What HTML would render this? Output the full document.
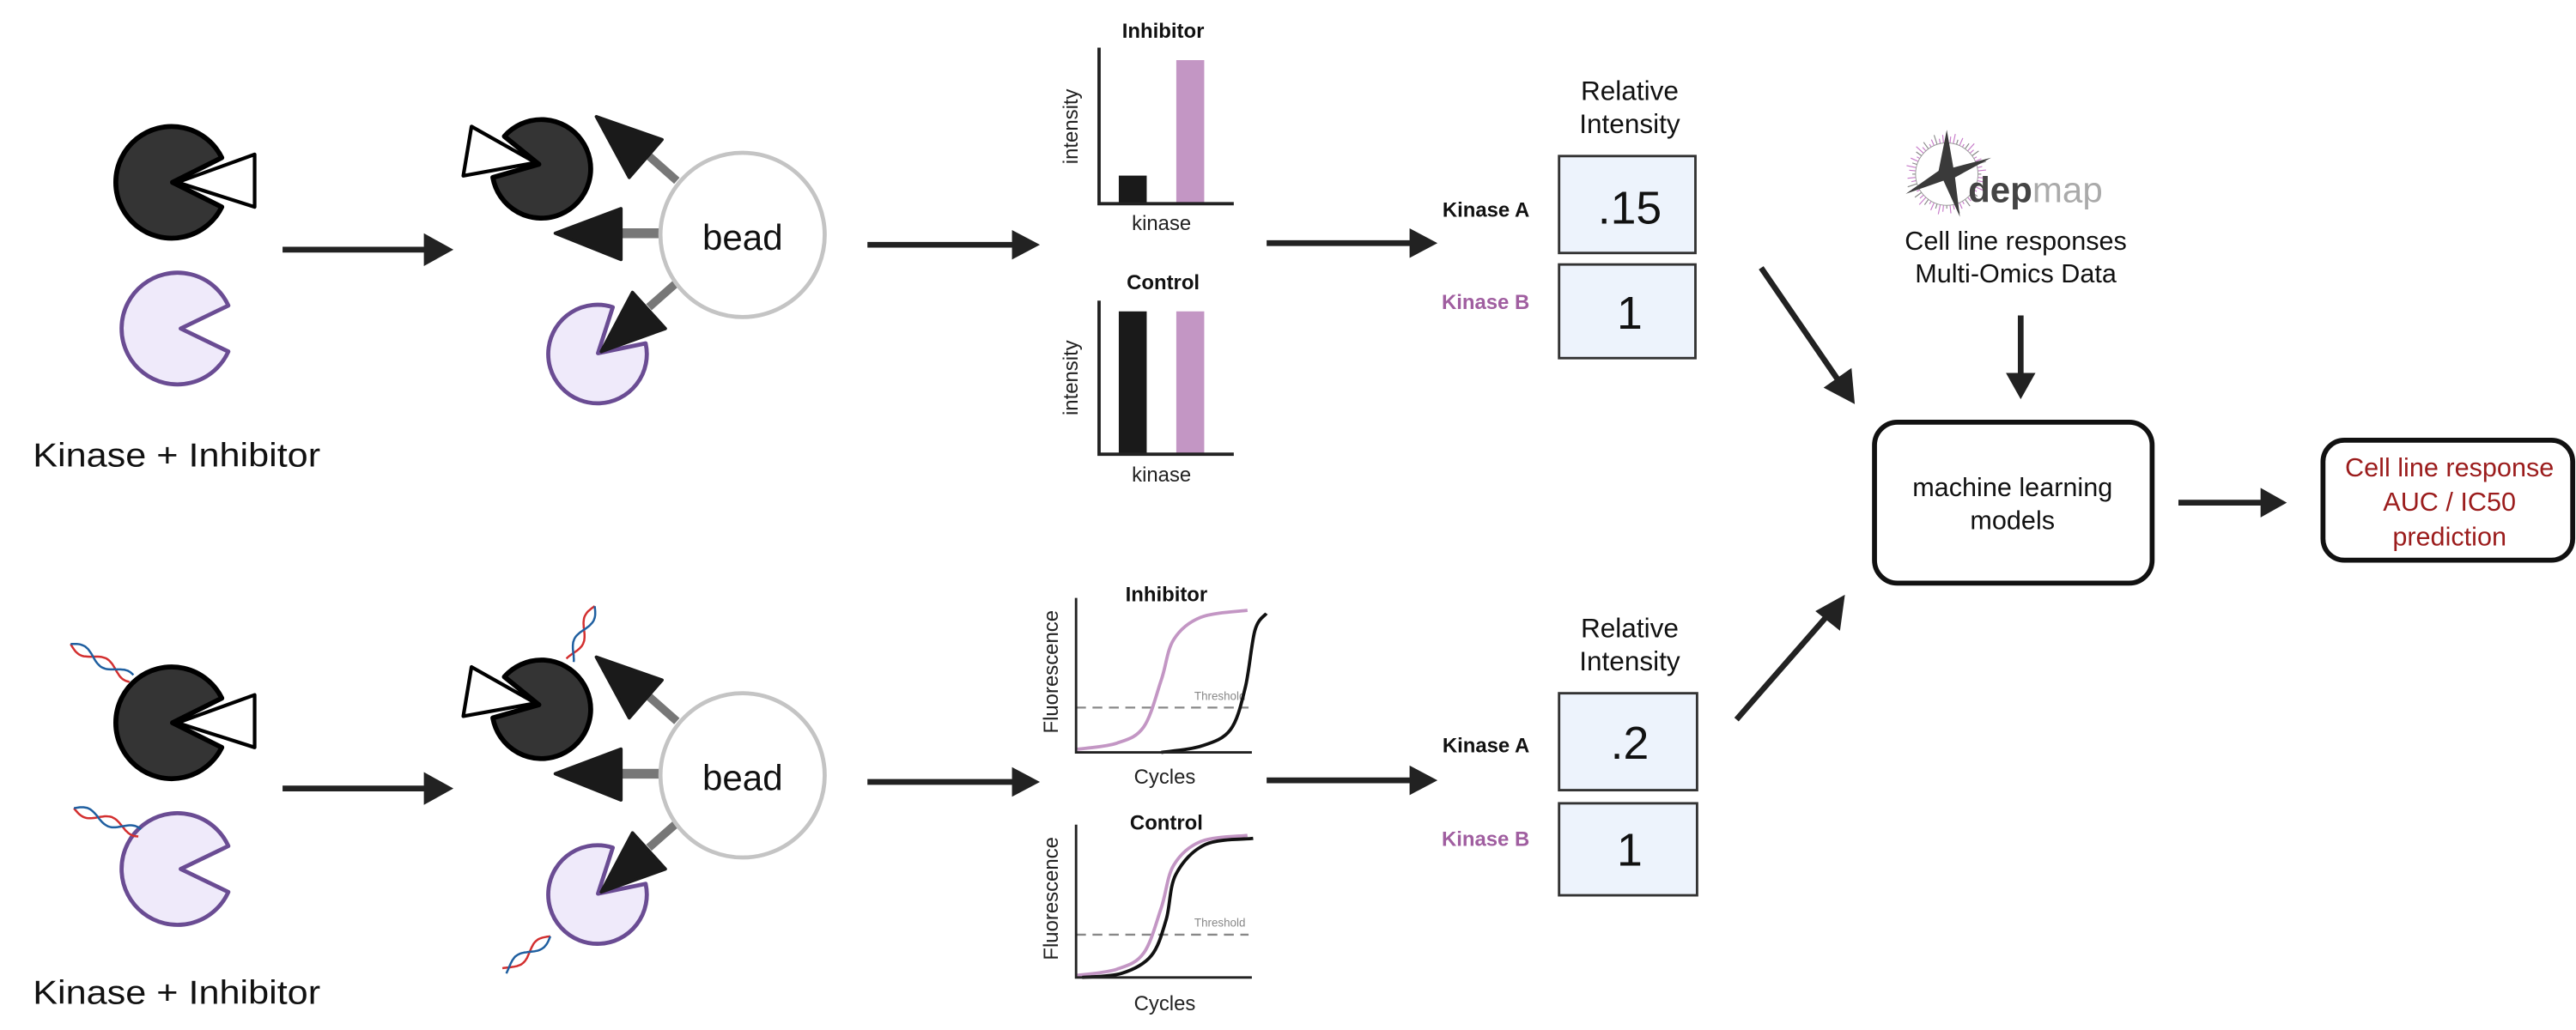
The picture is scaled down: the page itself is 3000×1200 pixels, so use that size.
<!DOCTYPE html>
<html><head><meta charset="utf-8"><style>
html,body{margin:0;padding:0;background:#fff;width:3000px;height:1200px;overflow:hidden}
svg{display:block}
text{font-family:"Liberation Sans",sans-serif}
</style></head><body>
<svg id="fig" width="3000" height="1200" viewBox="0 0 1568 627" preserveAspectRatio="none" xmlns="http://www.w3.org/2000/svg">

<!-- ===== TOP LEFT GROUP ===== -->
<g>
  <path d="M105,111 L135,96 A34,34 0 1 0 135,126 Z" fill="#343434" stroke="#000" stroke-width="3" stroke-linejoin="round"/>
  <path d="M108,111 L155,94 L155,126 Z" fill="#fff" stroke="#000" stroke-width="2.2" stroke-linejoin="round"/>
  <path d="M110,200 L139,186 A34,34 0 1 0 139,214 Z" fill="#efeafa" stroke="#6a4c93" stroke-width="2.5" stroke-linejoin="round"/>
  <line x1="172" y1="152" x2="262" y2="152" stroke="#222" stroke-width="3.5"/>
  <path d="M258,142 L276,152 L258,162 Z" fill="#222"/>
  <text x="20" y="284" font-size="20.5" fill="#111" textLength="175" lengthAdjust="spacingAndGlyphs">Kinase + Inhibitor</text>

  <line x1="395" y1="95" x2="412" y2="110" stroke="#777" stroke-width="5"/>
  <line x1="378" y1="142" x2="402" y2="142" stroke="#777" stroke-width="6"/>
  <line x1="395" y1="187" x2="412" y2="172" stroke="#777" stroke-width="5"/>
  <path d="M328,100 L307,83 A30,30 0 1 1 300,108 Z" fill="#343434" stroke="#000" stroke-width="3" stroke-linejoin="round"/>
  <path d="M287,77 L282,107 L326,99 Z" fill="#fff" stroke="#000" stroke-width="2.2" stroke-linejoin="round"/>
  <path d="M364,215 L373,187 A30,30 0 1 0 393,209 Z" fill="#efeafa" stroke="#6a4c93" stroke-width="2.5" stroke-linejoin="round"/>
  <path d="M363,71 L403,85 L383,108 Z" fill="#1a1a1a" stroke="#1a1a1a" stroke-width="2" stroke-linejoin="round"/>
  <path d="M338,142 L378,127 L378,158 Z" fill="#1a1a1a" stroke="#1a1a1a" stroke-width="2" stroke-linejoin="round"/>
  <path d="M366,214 L385,178 L405,200 Z" fill="#1a1a1a" stroke="#1a1a1a" stroke-width="2" stroke-linejoin="round"/>
  <ellipse cx="452" cy="143" rx="50" ry="50" fill="#fff" stroke="#c4c4c4" stroke-width="2.5"/>
  <text x="452" y="152" font-size="22" text-anchor="middle" fill="#111">bead</text>
  <line x1="528" y1="149" x2="618" y2="149" stroke="#222" stroke-width="3.5"/>
  <path d="M616,140 L633,149 L616,158 Z" fill="#222"/>
</g>

<!-- ===== BOTTOM LEFT GROUP ===== -->
<g transform="translate(0,329)">
  <path d="M105,111 L135,96 A34,34 0 1 0 135,126 Z" fill="#343434" stroke="#000" stroke-width="3" stroke-linejoin="round"/>
  <path d="M108,111 L155,94 L155,126 Z" fill="#fff" stroke="#000" stroke-width="2.2" stroke-linejoin="round"/>
  <path d="M110,200 L139,186 A34,34 0 1 0 139,214 Z" fill="#efeafa" stroke="#6a4c93" stroke-width="2.5" stroke-linejoin="round"/>
  <line x1="172" y1="151" x2="262" y2="151" stroke="#222" stroke-width="3.5"/>
  <path d="M258,141 L276,151 L258,161 Z" fill="#222"/>
  <text x="20" y="282" font-size="20.5" fill="#111" textLength="175" lengthAdjust="spacingAndGlyphs">Kinase + Inhibitor</text>
  <line x1="395" y1="95" x2="412" y2="110" stroke="#777" stroke-width="5"/>
  <line x1="378" y1="142" x2="402" y2="142" stroke="#777" stroke-width="6"/>
  <line x1="395" y1="187" x2="412" y2="172" stroke="#777" stroke-width="5"/>
  <path d="M328,100 L307,83 A30,30 0 1 1 300,108 Z" fill="#343434" stroke="#000" stroke-width="3" stroke-linejoin="round"/>
  <path d="M287,77 L282,107 L326,99 Z" fill="#fff" stroke="#000" stroke-width="2.2" stroke-linejoin="round"/>
  <path d="M364,215 L373,187 A30,30 0 1 0 393,209 Z" fill="#efeafa" stroke="#6a4c93" stroke-width="2.5" stroke-linejoin="round"/>
  <path d="M363,71 L403,85 L383,108 Z" fill="#1a1a1a" stroke="#1a1a1a" stroke-width="2" stroke-linejoin="round"/>
  <path d="M338,142 L378,127 L378,158 Z" fill="#1a1a1a" stroke="#1a1a1a" stroke-width="2" stroke-linejoin="round"/>
  <path d="M366,214 L385,178 L405,200 Z" fill="#1a1a1a" stroke="#1a1a1a" stroke-width="2" stroke-linejoin="round"/>
  <ellipse cx="452" cy="143" rx="50" ry="50" fill="#fff" stroke="#c4c4c4" stroke-width="2.5"/>
  <text x="452" y="152" font-size="22" text-anchor="middle" fill="#111">bead</text>
  <line x1="528" y1="147" x2="618" y2="147" stroke="#222" stroke-width="3.5"/>
  <path d="M616,138 L633,147 L616,156 Z" fill="#222"/>
</g>
<g id="helices"></g>

<!-- ===== BAR CHARTS ===== -->
<g id="bars">
  <text x="708" y="23" font-size="12.5" font-weight="bold" text-anchor="middle" fill="#111">Inhibitor</text>
  <text x="708" y="176" font-size="12.5" font-weight="bold" text-anchor="middle" fill="#111">Control</text>
  <text transform="translate(656,77) rotate(-90)" font-size="12.5" text-anchor="middle" fill="#222">intensity</text>
  <text transform="translate(656,230) rotate(-90)" font-size="12.5" text-anchor="middle" fill="#222">intensity</text>
  <text x="707" y="140" font-size="12.5" text-anchor="middle" fill="#222">kinase</text>
  <text x="707" y="293" font-size="12.5" text-anchor="middle" fill="#222">kinase</text>
</g>

<!-- ===== qPCR CHARTS ===== -->
<g id="qpcr">
  <text x="710" y="366" font-size="12.5" font-weight="bold" text-anchor="middle" fill="#111">Inhibitor</text>
  <text x="710" y="505" font-size="12.5" font-weight="bold" text-anchor="middle" fill="#111">Control</text>
  <text transform="translate(644,409) rotate(-90)" font-size="12.5" text-anchor="middle" fill="#222">Fluorescence</text>
  <text transform="translate(644,547) rotate(-90)" font-size="12.5" text-anchor="middle" fill="#222">Fluorescence</text>
  <text x="709" y="477" font-size="12.5" text-anchor="middle" fill="#222">Cycles</text>
  <text x="709" y="615" font-size="12.5" text-anchor="middle" fill="#222">Cycles</text>
  <text x="727" y="426" font-size="7" fill="#888">Threshold</text>
  <text x="727" y="564" font-size="7" fill="#888">Threshold</text>
</g>

<line x1="771" y1="148" x2="860" y2="148" stroke="#222" stroke-width="3.5"/>
<path d="M858,139 L875,148 L858,157 Z" fill="#222"/>
<line x1="771" y1="475" x2="860" y2="475" stroke="#222" stroke-width="3.5"/>
<path d="M858,466 L875,475 L858,484 Z" fill="#222"/>

<g>
  <text x="992" y="61" font-size="16.5" text-anchor="middle" fill="#111">Relative</text>
  <text x="992" y="81" font-size="16.5" text-anchor="middle" fill="#111">Intensity</text>
  <rect x="949" y="95" width="83" height="59" fill="#edf3fc" stroke="#333" stroke-width="1.5"/>
  <text x="992" y="136" font-size="28" text-anchor="middle" fill="#111">.15</text>
  <rect x="949" y="161" width="83" height="57" fill="#edf3fc" stroke="#333" stroke-width="1.5"/>
  <text x="992" y="200" font-size="28" text-anchor="middle" fill="#111">1</text>
  <text x="931" y="132" font-size="12.5" font-weight="bold" text-anchor="end" fill="#111">Kinase A</text>
  <text x="931" y="188" font-size="12.5" font-weight="bold" text-anchor="end" fill="#a05ea0">Kinase B</text>
</g>
<g>
  <text x="992" y="388" font-size="16.5" text-anchor="middle" fill="#111">Relative</text>
  <text x="992" y="408" font-size="16.5" text-anchor="middle" fill="#111">Intensity</text>
  <rect x="949" y="422" width="84" height="59" fill="#edf3fc" stroke="#333" stroke-width="1.5"/>
  <text x="992" y="462" font-size="28" text-anchor="middle" fill="#111">.2</text>
  <rect x="949" y="489" width="84" height="56" fill="#edf3fc" stroke="#333" stroke-width="1.5"/>
  <text x="992" y="527" font-size="28" text-anchor="middle" fill="#111">1</text>
  <text x="931" y="458" font-size="12.5" font-weight="bold" text-anchor="end" fill="#111">Kinase A</text>
  <text x="931" y="515" font-size="12.5" font-weight="bold" text-anchor="end" fill="#a05ea0">Kinase B</text>
</g>

<line x1="1072" y1="163" x2="1120" y2="233" stroke="#222" stroke-width="3.5"/>
<path d="M1110,236 L1129,246 L1127,224 Z" fill="#222"/>
<line x1="1057" y1="438" x2="1113" y2="374" stroke="#222" stroke-width="3.5"/>
<path d="M1105,372 L1123,362 L1120,384 Z" fill="#222"/>

<g>
  <g id="ring"></g>
  <path d="M1185,79 L1189,102 L1212,96 L1190,108 L1193,132 L1183,110 L1160,118 L1180,104 Z" fill="#3a3a3a"/>
  <text x="1198" y="123" font-size="22" font-weight="bold" fill="#444">dep<tspan font-weight="normal" fill="#aaa">map</tspan></text>
</g>
<text x="1227" y="152" font-size="16" text-anchor="middle" fill="#111">Cell line responses</text>
<text x="1227" y="172" font-size="16" text-anchor="middle" fill="#111">Multi-Omics Data</text>
<line x1="1230" y1="192" x2="1230" y2="230" stroke="#222" stroke-width="3.5"/>
<path d="M1221,227 L1230,243 L1239,227 Z" fill="#222"/>

<rect x="1141" y="257" width="169" height="98" rx="14" fill="#fff" stroke="#111" stroke-width="3"/>
<text x="1225" y="302" font-size="16" text-anchor="middle" fill="#111">machine learning</text>
<text x="1225" y="322" font-size="16" text-anchor="middle" fill="#111">models</text>
<line x1="1326" y1="306" x2="1378" y2="306" stroke="#222" stroke-width="3.5"/>
<path d="M1376,297 L1392,306 L1376,315 Z" fill="#222"/>
<rect x="1414" y="268" width="152" height="73" rx="13" fill="#fff" stroke="#111" stroke-width="3"/>
<text x="1491" y="290" font-size="16" text-anchor="middle" fill="#9b1c1c">Cell line response</text>
<text x="1491" y="311" font-size="16" text-anchor="middle" fill="#9b1c1c">AUC / IC50</text>
<text x="1491" y="332" font-size="16" text-anchor="middle" fill="#9b1c1c">prediction</text>
</svg>

<script>
// ---- Bar chart data ----
const barCategories = ["Kinase A", "Kinase B"];
const barInhibitorValues = [0.18, 0.92];
const barControlValues = [0.93, 0.93];
const barColors = ["#1a1a1a", "#c396c4"];

// ---- qPCR data (cycles 0-40, fluorescence 0-1) ----
const inhPurpleCycles = [0.3, 9.3, 15.4, 19.4, 22.2, 28.4, 39];
const inhPurpleFluor = [0.02, 0.06, 0.165, 0.47, 0.73, 0.875, 0.92];
const inhBlackCycles = [19.4, 28.4, 35.1, 38.5, 40.7, 43.3];
const inhBlackFluor = [0.0, 0.04, 0.146, 0.42, 0.79, 0.9];
const ctlPurpleCycles = [0.3, 9.3, 15.4, 19.4, 22.2, 28.4, 39];
const ctlPurpleFluor = [0.013, 0.054, 0.16, 0.457, 0.734, 0.89, 0.93];
const ctlBlackCycles = [1.4, 10.4, 17.1, 20.5, 22.7, 29.4, 40.3];
const ctlBlackFluor = [0.0, 0.027, 0.142, 0.378, 0.674, 0.87, 0.91];
const thresholdValues = [0.29, 0.28];

const NS = "http://www.w3.org/2000/svg";
function mk(tag, attrs, parent) {
  const e = document.createElementNS(NS, tag);
  for (const k in attrs) e.setAttribute(k, attrs[k]);
  parent.appendChild(e);
  return e;
}

const barG = document.getElementById("bars");
const barPanels = [{vals: barInhibitorValues, bottom: 124, top: 29}, {vals: barControlValues, bottom: 276.5, top: 183}];
const barX0 = 669, barX1 = 751;
function barXScale(i) { return 681 + i * 35; }
barPanels.forEach((p, pi) => {
  const yS = v => p.bottom - v * (p.bottom - p.top);
  p.vals.forEach((v, i) => {
    const r = mk("rect", {x: barXScale(i), y: yS(v), width: 17, height: p.bottom - yS(v), fill: barColors[i]}, barG);
    
    
  });
  const ax = mk("path", {d: `M${barX0},${p.top} L${barX0},${p.bottom} L${barX1},${p.bottom}`, fill: "none", stroke: "#222", "stroke-width": 2}, barG);
  
  
});

const qG = document.getElementById("qpcr");
const qX0 = 655, qX1 = 762;
const qx = c => qX0 + c / 40 * (qX1 - qX0);
const qPanels = [
  {bottom: 458, top: 364, series: [[inhPurpleCycles, inhPurpleFluor, "#c396c4"], [inhBlackCycles, inhBlackFluor, "#111"]], th: thresholdValues[0]},
  {bottom: 595, top: 502, series: [[ctlPurpleCycles, ctlPurpleFluor, "#c396c4"], [ctlBlackCycles, ctlBlackFluor, "#111"]], th: thresholdValues[1]}
];
function smooth(pts) {
  let d = `M${pts[0][0]},${pts[0][1]}`;
  for (let i = 0; i < pts.length - 1; i++) {
    const p0 = pts[i - 1] || pts[i], p1 = pts[i], p2 = pts[i + 1], p3 = pts[i + 2] || p2;
    const c1 = [p1[0] + (p2[0] - p0[0]) / 6, p1[1] + (p2[1] - p0[1]) / 6];
    const c2 = [p2[0] - (p3[0] - p1[0]) / 6, p2[1] - (p3[1] - p1[1]) / 6];
    d += ` C${c1[0]},${c1[1]} ${c2[0]},${c2[1]} ${p2[0]},${p2[1]}`;
  }
  return d;
}
qPanels.forEach(p => {
  const qy = v => p.bottom - v * (p.bottom - p.top);
  const th = mk("line", {x1: qX0, x2: 760, y1: qy(p.th), y2: qy(p.th), stroke: "#888", "stroke-width": 1.2, "stroke-dasharray": "6,4"}, qG);
  
  
  p.series.forEach(s => {
    const pts = s[0].map((c, i) => [qx(c), qy(s[1][i])]);
    const l = mk("path", {d: smooth(pts), fill: "none", stroke: s[2], "stroke-width": 2}, qG);
    
    
  });
  const ax = mk("path", {d: `M${qX0},${p.top} L${qX0},${p.bottom} L${qX1},${p.bottom}`, fill: "none", stroke: "#222", "stroke-width": 1.5}, qG);
  
  
});

const hG = document.getElementById("helices");
[[43, 392, 80, 413], [45, 492, 85, 507], [362, 369, 347, 402], [335, 570, 307, 591]].forEach(h => {
  const [x1, y1, x2, y2] = h;
  const dx = x2 - x1, dy = y2 - y1, L = Math.hypot(dx, dy), nx = -dy / L, ny = dx / L;
  [0, Math.PI].forEach((ph, k) => {
    let d = "";
    for (let i = 0; i <= 40; i++) {
      const t = i / 40, o = 3 * Math.sin(t * L / 5 + ph);
      d += (i ? "L" : "M") + (x1 + dx * t + nx * o).toFixed(1) + "," + (y1 + dy * t + ny * o).toFixed(1);
    }
    const p = mk("path", {d, fill: "none", stroke: k ? "#1f5fa0" : "#d32f2f", "stroke-width": 1.3}, hG);
    
    
  });
});

const rG = document.getElementById("ring");
for (let i = 0; i < 60; i++) {
  const a = i / 60 * Math.PI * 2, len = 2 + (i * 7 % 5);
  const r0 = 19, r1 = r0 + len;
  const t = mk("line", {x1: 1185 + r0 * Math.cos(a), y1: 106 + r0 * Math.sin(a), x2: 1185 + r1 * Math.cos(a), y2: 106 + r1 * Math.sin(a), stroke: i % 3 ? "#c77bc9" : "#888", "stroke-width": 0.6}, rG);
  
  
}
const rc = mk("circle", {cx: 1185, cy: 106, r: 19, fill: "none", stroke: "#999", "stroke-width": 0.5}, rG);


</script>
</body></html>
